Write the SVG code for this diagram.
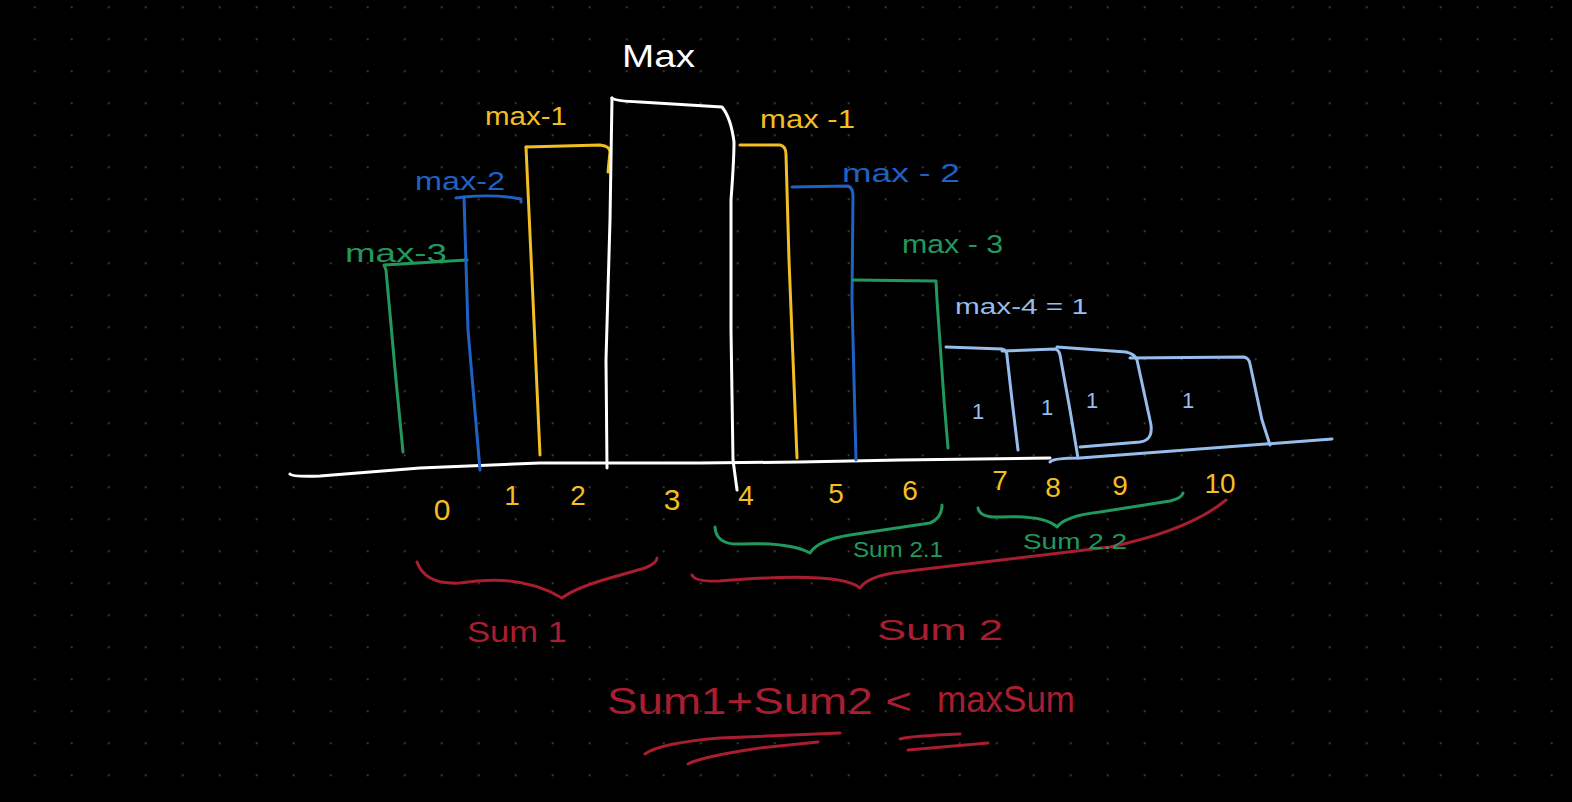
<svg xmlns="http://www.w3.org/2000/svg" width="1572" height="802" viewBox="0 0 1572 802">
<defs>
<pattern id="dots" x="33.7" y="6.3" width="37" height="32" patternUnits="userSpaceOnUse">
<circle cx="1" cy="1" r="1" fill="#4a4a4a"/>
</pattern>
<style>
.s{fill:none;stroke-width:3;stroke-linecap:round;stroke-linejoin:round}
.w{stroke:#ffffff}.y{stroke:#f2bf22}.g{stroke:#22995c}.b{stroke:#1f62c4}.lb{stroke:#96bdec}.r{stroke:#a81e30}
text{font-family:"Liberation Sans","DejaVu Sans",sans-serif}
.tw{fill:#ffffff}.ty{fill:#f2bf22}.tg{fill:#22995c}.tb{fill:#1f62c4}.tlb{fill:#96bdec}.tr{fill:#a81e30}
</style>
</defs>
<rect width="1572" height="802" fill="#000000"/>
<rect width="1572" height="802" fill="url(#dots)"/>

<g id="axis">
<path class="s w" d="M290,474 Q292,477 320,476 L420,468 L540,463 L700,463 L800,462 L900,460 L1050,458"/>
<path class="s lb" d="M1050,462 Q1053,458 1080,458 L1332,439"/>
</g>

<g id="bar0">
<path class="s g" d="M467,260 L384,265 L386,270 L396,380 L403,452"/>
<text class="tg" x="345" y="262" font-size="26" textLength="102" lengthAdjust="spacingAndGlyphs">max-3</text>
<text class="ty" x="442" y="520" font-size="30" text-anchor="middle">0</text>
</g>
<g id="bar1">
<path class="s b" d="M456,198 L464,197 Q495,194 521,199 L521,202"/>
<path class="s b" d="M464,197 L468,330 L480,470"/>
<text class="tb" x="415" y="190" font-size="26" textLength="90" lengthAdjust="spacingAndGlyphs">max-2</text>
<text class="ty" x="512" y="505" font-size="28" text-anchor="middle">1</text>
</g>
<g id="bar2">
<path class="s y" d="M526,147 L600,145 Q610,146 610,152 L608,172"/>
<path class="s y" d="M526,147 L533,300 L540,455"/>
<text class="ty" x="485" y="125" font-size="26" textLength="82" lengthAdjust="spacingAndGlyphs">max-1</text>
<text class="ty" x="578" y="505" font-size="28" text-anchor="middle">2</text>
</g>
<g id="bar3">
<path class="s w" d="M612,98 Q614,101 640,102 L722,107 Q731,118 734,142 Q734,160 731,200 L731,330 L733,460 L737,490"/>
<path class="s w" d="M612,98 L610,220 L606,360 L607,468"/>
<text class="tw" x="622" y="67" font-size="32" textLength="73" lengthAdjust="spacingAndGlyphs">Max</text>
<text class="ty" x="672" y="510" font-size="30" text-anchor="middle">3</text>
</g>
<g id="bar4">
<path class="s y" d="M740,145 L780,145 Q786,146 786,155 L789,260 L797,458"/>
<text class="ty" x="760" y="128" font-size="26" textLength="95" lengthAdjust="spacingAndGlyphs">max -1</text>
<text class="ty" x="746" y="505" font-size="28" text-anchor="middle">4</text>
</g>
<g id="bar5">
<path class="s b" d="M792,187 L848,186 Q853,188 853,196 L852,300 L856,460"/>
<text class="tb" x="842" y="182" font-size="26" textLength="118" lengthAdjust="spacingAndGlyphs">max - 2</text>
<text class="ty" x="836" y="503" font-size="28" text-anchor="middle">5</text>
</g>
<g id="bar6">
<path class="s g" d="M853,280 L936,281 L937,300 L944,400 L948,448"/>
<text class="tg" x="902" y="253" font-size="26" textLength="101" lengthAdjust="spacingAndGlyphs">max - 3</text>
<text class="ty" x="910" y="500" font-size="28" text-anchor="middle">6</text>
</g>
<g id="bars-1">
<path class="s lb" d="M946,347 L1002,349 Q1007,350 1007,356 L1012,400 L1018,450"/>
<path class="s lb" d="M1002,351 L1055,349 Q1059,350 1060,355 L1070,410 L1078,458"/>
<path class="s lb" d="M1057,347 L1126,352 Q1135,354 1137,360 L1150,420 Q1155,440 1140,442 L1080,447"/>
<path class="s lb" d="M1130,358 L1244,357 Q1249,358 1250,364 L1262,420 L1270,445"/>
<text class="tlb" x="955" y="314" font-size="22" textLength="133" lengthAdjust="spacingAndGlyphs">max-4 = 1</text>
<text class="tlb" x="978" y="419" font-size="22" text-anchor="middle">1</text>
<text class="tlb" x="1047" y="415" font-size="22" text-anchor="middle">1</text>
<text class="tlb" x="1092" y="408" font-size="22" text-anchor="middle">1</text>
<text class="tlb" x="1188" y="408" font-size="22" text-anchor="middle">1</text>
<text class="ty" x="1000" y="490" font-size="28" text-anchor="middle">7</text>
<text class="ty" x="1053" y="497" font-size="28" text-anchor="middle">8</text>
<text class="ty" x="1120" y="495" font-size="28" text-anchor="middle">9</text>
<text class="ty" x="1220" y="493" font-size="28" text-anchor="middle">10</text>
</g>

<g id="connectors">
<path class="s g" d="M715,527 Q716,545 740,544 Q790,542 810,553 Q818,540 850,535 L930,523 Q942,518 942,505"/>
<path class="s g" d="M978,508 Q980,518 1000,517 Q1045,515 1057,527 Q1065,516 1100,512 L1170,501 Q1182,498 1183,493"/>
<path class="s r" d="M692,575 Q695,582 720,581 Q840,571 860,588 Q868,576 900,572 L1110,547 Q1190,530 1226,500"/>
<path class="s r" d="M417,562 Q425,585 460,583 Q520,573 562,598 Q575,588 610,578 L645,568 Q657,563 657,558"/>
<path class="s r" d="M645,754 Q660,743 720,738 L840,733"/>
<path class="s r" d="M688,764 Q700,757 760,748 L818,742"/>
<path class="s r" d="M900,739 Q910,736 960,734"/>
<path class="s r" d="M908,750 L988,743"/>
</g>

<g id="sums">
<text class="tg" x="853" y="557" font-size="22" textLength="90" lengthAdjust="spacingAndGlyphs">Sum 2.1</text>
<text class="tg" x="1023" y="549" font-size="22" textLength="104" lengthAdjust="spacingAndGlyphs">Sum 2.2</text>
<text class="tr" x="467" y="642" font-size="30" textLength="100" lengthAdjust="spacingAndGlyphs">Sum 1</text>
<text class="tr" x="877" y="640" font-size="30" textLength="126" lengthAdjust="spacingAndGlyphs">Sum 2</text>
<text class="tr" x="607" y="714" font-size="37" textLength="305" lengthAdjust="spacingAndGlyphs">Sum1+Sum2 &lt;</text>
<text class="tr" x="937" y="712" font-size="36" textLength="138" lengthAdjust="spacingAndGlyphs">maxSum</text>
</g>
</svg>
